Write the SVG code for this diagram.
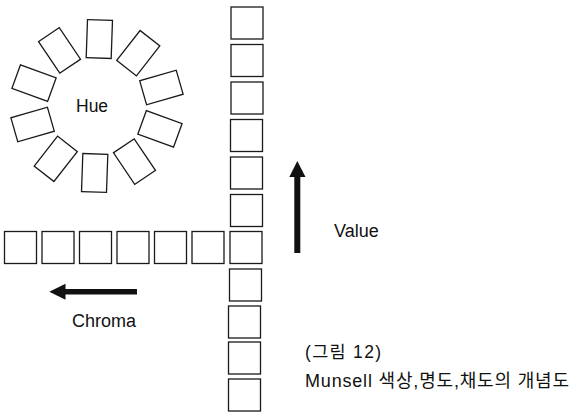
<svg xmlns="http://www.w3.org/2000/svg" width="575" height="412" viewBox="0 0 575 412">
<style>
.box{fill:#fff;stroke:#1a1a1a;stroke-width:1.3}
.t{font-family:"Liberation Sans",Arial,sans-serif;fill:#111}
.k{font-family:"Liberation Sans","Noto Sans CJK KR",sans-serif;fill:#111}
.arr{fill:#111;stroke:none}
</style>
<defs>
<rect id="hr" x="-12.5" y="-19" width="25" height="38"/>
<rect id="sq" x="0" y="0" width="32" height="32"/>
</defs>
<rect width="575" height="412" fill="#fff"/>
<g id="hue-wheel">
<g class="box" transform="translate(97,106)">
<use href="#hr" transform="rotate(2) translate(0,-67)"/>
<use href="#hr" transform="rotate(38) translate(0,-67)"/>
<use href="#hr" transform="rotate(74) translate(0,-67)"/>
<use href="#hr" transform="rotate(110) translate(0,-67)"/>
<use href="#hr" transform="rotate(146) translate(0,-67)"/>
<use href="#hr" transform="rotate(182) translate(0,-67)"/>
<use href="#hr" transform="rotate(218) translate(0,-67)"/>
<use href="#hr" transform="rotate(254) translate(0,-67)"/>
<use href="#hr" transform="rotate(290) translate(0,-67)"/>
<use href="#hr" transform="rotate(326) translate(0,-67)"/>
</g>
<text class="t" x="76" y="111.5" font-size="17.5">Hue</text>
</g>
<g id="value-column" class="box">
<use href="#sq" x="231" y="7"/>
<use href="#sq" x="231" y="44.5"/>
<use href="#sq" x="231" y="82"/>
<use href="#sq" x="230.5" y="119.5"/>
<use href="#sq" x="230.5" y="157"/>
<use href="#sq" x="230.5" y="194.5"/>
<use href="#sq" x="230" y="231.5"/>
<use href="#sq" x="229.5" y="269"/>
<use href="#sq" x="228.5" y="306"/>
<use href="#sq" x="228.5" y="342"/>
<use href="#sq" x="228.5" y="379"/>
</g>
<g id="chroma-row" class="box">
<use href="#sq" x="4.5" y="231.5"/>
<use href="#sq" x="42" y="231.5"/>
<use href="#sq" x="79.5" y="231.5"/>
<use href="#sq" x="117" y="231.5"/>
<use href="#sq" x="154.5" y="231.5"/>
<use href="#sq" x="192" y="231.5"/>
</g>
<g id="connectors">
<g id="value-arrow">
<rect class="arr" x="294.3" y="175" width="6" height="78"/>
<polygon class="arr" points="297.3,161 305.5,177 289.3,177"/>
</g>
<g id="chroma-arrow">
<rect class="arr" x="63" y="289" width="74" height="5.5"/>
<polygon class="arr" points="49.3,291.7 65.5,283.7 65.5,299.7"/>
</g>
</g>
<g id="labels">
<text class="t" x="334" y="236.5" font-size="18">Value</text>
<text class="t" x="72" y="327" font-size="18">Chroma</text>
<text class="k" x="305" y="358" font-size="17.5" textLength="76" lengthAdjust="spacing">(그림  12)</text>
<text class="k" x="305" y="387" font-size="18" textLength="264" lengthAdjust="spacing">Munsell  색상,명도,채도의  개념도</text>
</g>
</svg>
